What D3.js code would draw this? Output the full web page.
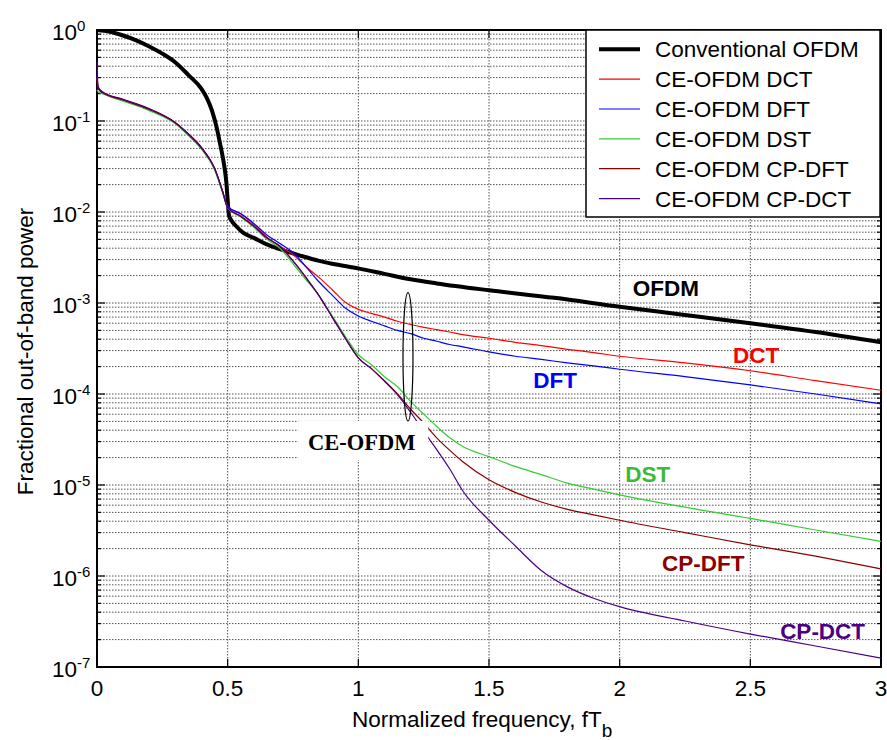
<!DOCTYPE html>
<html>
<head>
<meta charset="utf-8">
<script src="https://cdn.jsdelivr.net/npm/d3@7"></script>
<style>
  html, body { margin: 0; padding: 0; background: #fff; }
  svg { display: block; }
</style>
</head>
<body>
<svg id="chart" width="887" height="740"></svg>
<script>
// ---------------- data ----------------
const ofdmFreq = [0, 0.05, 0.1, 0.15, 0.2, 0.25, 0.3, 0.35, 0.4, 0.42, 0.44, 0.46, 0.47, 0.48, 0.49, 0.495, 0.5, 0.505, 0.515, 0.53, 0.56, 0.6, 0.65, 0.7, 0.78, 0.85, 0.9, 1.0, 1.1, 1.2, 1.3, 1.5, 1.75, 2.0, 2.25, 2.5, 2.75, 3.0];
const ofdmConv = [1.0, 0.957, 0.87, 0.77, 0.66, 0.55, 0.44, 0.32, 0.225, 0.18, 0.13, 0.08, 0.058, 0.042, 0.028, 0.021, 0.0135, 0.0092, 0.008, 0.0071, 0.0059, 0.0052, 0.0044, 0.0039, 0.0033, 0.0029, 0.0027, 0.0024, 0.00209, 0.00182, 0.00164, 0.00138, 0.00114, 0.00091, 0.00074, 0.0006, 0.00048, 0.00037];

const ceFreq = [0, 0.004, 0.02, 0.1, 0.2, 0.3, 0.35, 0.4, 0.45, 0.48, 0.5, 0.55, 0.6, 0.65, 0.7, 0.75, 0.8, 0.85, 0.9, 0.95, 1.0, 1.05, 1.1, 1.15, 1.2, 1.25, 1.3, 1.35, 1.4, 1.5, 1.6, 1.7, 1.8, 1.9, 2.0, 2.25, 2.5, 2.75, 3.0];
const ceDCT = [0.3, 0.235, 0.21, 0.172, 0.136, 0.096, 0.072, 0.051, 0.030, 0.017, 0.0115, 0.0095, 0.0073, 0.0053, 0.0042, 0.0034, 0.0025, 0.0019, 0.0014, 0.00102, 0.00085, 0.00077, 0.0007, 0.00063, 0.00058, 0.00054, 0.00051, 0.00048, 0.00045, 0.00041, 0.00037, 0.00034, 0.00031, 0.000285, 0.00026, 0.00022, 0.00018, 0.00014, 0.00011];
const ceDFT = [0.33, 0.23, 0.205, 0.17, 0.134, 0.095, 0.071, 0.05, 0.030, 0.017, 0.0115, 0.0096, 0.0075, 0.0056, 0.0045, 0.0036, 0.0025, 0.0017, 0.00122, 0.00088, 0.00072, 0.00063, 0.00056, 0.0005, 0.00046, 0.00041, 0.00038, 0.00035, 0.00033, 0.00029, 0.00026, 0.00024, 0.00022, 0.000204, 0.000187, 0.000155, 0.000126, 0.0001, 0.000078];
const ceDST = [0.22, 0.21, 0.2, 0.165, 0.13, 0.093, 0.069, 0.049, 0.029, 0.0165, 0.011, 0.0088, 0.0068, 0.005, 0.004, 0.0027, 0.0018, 0.0012, 0.00072, 0.00043, 0.00027, 0.00021, 0.000155, 0.00012, 8.3e-5, 6e-5, 4.4e-5, 3.3e-5, 2.65e-5, 2.05e-5, 1.6e-5, 1.3e-5, 1.05e-5, 9e-6, 7.8e-6, 5.7e-6, 4.3e-6, 3.2e-6, 2.4e-6];
const ceCPDFT = [0.3, 0.23, 0.205, 0.17, 0.134, 0.095, 0.071, 0.05, 0.030, 0.017, 0.0112, 0.009, 0.007, 0.0052, 0.0042, 0.0029, 0.0019, 0.0012, 0.0007, 0.00041, 0.00025, 0.00019, 0.00014, 0.0001, 6.8e-5, 4.8e-5, 3.3e-5, 2.4e-5, 1.8e-5, 1.14e-5, 8.3e-6, 6.5e-6, 5.4e-6, 4.7e-6, 4.1e-6, 3e-6, 2.2e-6, 1.65e-6, 1.2e-6];
const ceCPDCT = [0.45, 0.24, 0.21, 0.173, 0.136, 0.096, 0.072, 0.051, 0.030, 0.017, 0.0112, 0.009, 0.007, 0.0052, 0.0042, 0.0029, 0.0019, 0.0012, 0.0007, 0.00041, 0.00025, 0.00019, 0.000138, 9.8e-5, 6.3e-5, 3.9e-5, 2.45e-5, 1.5e-5, 8.6e-6, 4.1e-6, 2.15e-6, 1.15e-6, 7.6e-7, 5.7e-7, 4.6e-7, 3.2e-7, 2.3e-7, 1.7e-7, 1.25e-7];

const seriesNames = ["Conventional OFDM", "CE-OFDM DCT", "CE-OFDM DFT", "CE-OFDM DST", "CE-OFDM CP-DFT", "CE-OFDM CP-DCT"];
const seriesColors = ["#000000", "#ff0000", "#0000ff", "#33cc33", "#8b0000", "#4b0082"];
const xTickValues = [0, 0.5, 1, 1.5, 2, 2.5, 3];
const xTickLabels = ["0", "0.5", "1", "1.5", "2", "2.5", "3"];
const yDecades = [0, -1, -2, -3, -4, -5, -6, -7];
const curveLabels = ["OFDM", "DCT", "DFT", "DST", "CP-DFT", "CP-DCT"];
const labelColors = ["#000000", "#ff0000", "#0000ff", "#3cb93c", "#8b0000", "#4b0082"];
// label anchors in data units (frequency, power)
const labelFreq = [2.05, 2.434, 1.669, 2.021, 2.162, 2.614];
const labelPower = [1.19e-3, 2.19e-4, 1.16e-4, 1.08e-5, 1.13e-6, 2.03e-7];
const xLabel = "Normalized frequency, fT";
const yLabel = "Fractional out-of-band power";

// ---------------- layout ----------------
const SANS = "'Liberation Sans', Arial, sans-serif";
const SERIF = "'Liberation Serif', 'Times New Roman', serif";
const svg = d3.select("#chart").style("font-family", SANS);
const L = 97, R = 881, T = 30, B = 667;
const x = d3.scaleLinear().domain([0, 3]).range([L, R]);
const y = d3.scaleLog().domain([1e-7, 1]).range([B, T]);
const FS = 22.5;

svg.append("rect").attr("width", 887).attr("height", 740).attr("fill", "#fff");

// grid
const minorVals = [];
for (let e = -7; e <= 0; e++) {
  for (let m = 1; m <= 9; m++) {
    const v = m * Math.pow(10, e);
    if (v <= 1.0000001) minorVals.push(v);
  }
}
const isMajor = d => Math.abs(Math.log10(d) - Math.round(Math.log10(d))) < 1e-9;
const grid = svg.append("g");
grid.selectAll("line.h").data(minorVals).join("line")
  .attr("x1", L).attr("x2", R)
  .attr("y1", d => y(d)).attr("y2", d => y(d))
  .attr("stroke", "#555").attr("stroke-width", 1).attr("stroke-dasharray", "1.5,1.5");
grid.selectAll("line.v").data(xTickValues.slice(1, -1)).join("line")
  .attr("y1", T).attr("y2", B)
  .attr("x1", d => x(d)).attr("x2", d => x(d))
  .attr("stroke", "#555").attr("stroke-width", 1).attr("stroke-dasharray", "1.5,1.5");

// axes box
const axG = svg.append("g");
axG.append("rect").attr("x", L).attr("y", T).attr("width", R - L).attr("height", B - T)
  .attr("fill", "none").attr("stroke", "#000").attr("stroke-width", 2);
axG.selectAll("line.yt").data(minorVals).join("line")
  .attr("x1", L).attr("x2", d => L + (isMajor(d) ? 8 : 4))
  .attr("y1", d => y(d)).attr("y2", d => y(d)).attr("stroke", "#000").attr("stroke-width", 1.2);
axG.selectAll("line.yt2").data(minorVals).join("line")
  .attr("x1", R).attr("x2", d => R - (isMajor(d) ? 8 : 4))
  .attr("y1", d => y(d)).attr("y2", d => y(d)).attr("stroke", "#000").attr("stroke-width", 1.2);
axG.selectAll("line.xt").data(xTickValues).join("line")
  .attr("x1", d => x(d)).attr("x2", d => x(d)).attr("y1", B).attr("y2", B - 8)
  .attr("stroke", "#000").attr("stroke-width", 1.2);
axG.selectAll("line.xt2").data(xTickValues).join("line")
  .attr("x1", d => x(d)).attr("x2", d => x(d)).attr("y1", T).attr("y2", T + 8)
  .attr("stroke", "#000").attr("stroke-width", 1.2);

// clip (data drawn on top of the axes lines)
svg.append("clipPath").attr("id", "clip").append("rect")
  .attr("x", L - 1).attr("y", T - 1).attr("width", R - L + 2).attr("height", B - T + 2);

const line = d3.line().x(d => x(d[0])).y(d => y(d[1])).curve(d3.curveMonotoneX);
const seriesData = [
  d3.zip(ofdmFreq, ofdmConv),
  d3.zip(ceFreq, ceDCT),
  d3.zip(ceFreq, ceDFT),
  d3.zip(ceFreq, ceDST),
  d3.zip(ceFreq, ceCPDFT),
  d3.zip(ceFreq, ceCPDCT)
];
const widths = [4, 1.2, 1.2, 1.2, 1.2, 1.2];
const plotG = svg.append("g").attr("clip-path", "url(#clip)");
seriesData.forEach((d, i) => {
  plotG.append("path").datum(d).attr("d", line)
    .attr("fill", "none").attr("stroke", seriesColors[i])
    .attr("stroke-width", widths[i]).attr("stroke-linejoin", "round");
});

// CE-OFDM annotation box, ellipse
svg.append("rect").attr("x", x(0.77)).attr("y", y(5.05e-5)).attr("width", 130).attr("height", 39)
  .attr("fill", "#fff");
svg.append("text").attr("x", x(0.807)).attr("y", y(2.4e-5))
  .style("font-family", SERIF)
  .attr("font-weight", "bold").attr("font-size", FS).attr("fill", "#000").text("CE-OFDM");
svg.append("ellipse").attr("cx", x(1.19)).attr("cy", (y(1.3e-3) + y(5.05e-5)) / 2)
  .attr("rx", 5).attr("ry", (y(5.05e-5) - y(1.3e-3)) / 2)
  .attr("fill", "none").attr("stroke", "#000").attr("stroke-width", 1.2);

// curve labels
curveLabels.forEach((t, i) => {
  svg.append("text").attr("x", x(labelFreq[i])).attr("y", y(labelPower[i]))
    .attr("font-weight", "bold").attr("font-size", FS).attr("fill", labelColors[i]).text(t);
});

// x tick labels
xTickValues.forEach((v, i) => {
  svg.append("text").attr("x", x(v)).attr("y", B + 29).attr("text-anchor", "middle")
    .attr("font-size", FS).attr("fill", "#000").text(xTickLabels[i]);
});
// y tick labels
yDecades.forEach(e => {
  const t = svg.append("text").attr("x", 52).attr("y", y(Math.pow(10, e)) + 10)
    .attr("font-size", FS).attr("fill", "#000");
  t.append("tspan").text("10");
  t.append("tspan").attr("font-size", 15).attr("dy", -9).text(String(e));
});

// axis labels
const xl = svg.append("text").attr("x", 352).attr("y", 727).attr("font-size", FS).attr("fill", "#000");
xl.append("tspan").text(xLabel);
xl.append("tspan").attr("font-size", 19).attr("dy", 10).text("b");
svg.append("text").attr("transform", "translate(33," + ((T + B) / 2 + 3) + ") rotate(-90)")
  .attr("text-anchor", "middle").attr("font-size", FS).attr("fill", "#000").text(yLabel);

// legend
const lg = svg.append("g");
lg.append("rect").attr("x", 586).attr("y", 30).attr("width", 294).attr("height", 187)
  .attr("fill", "#fff").attr("stroke", "#000").attr("stroke-width", 1.5);
seriesNames.forEach((n, i) => {
  const by = 57.3 + i * 29.85;
  lg.append("line").attr("x1", 599).attr("x2", 640).attr("y1", by - 8).attr("y2", by - 8)
    .attr("stroke", seriesColors[i]).attr("stroke-width", i === 0 ? 4 : 1.2);
  lg.append("text").attr("x", 655).attr("y", by).attr("font-size", FS).attr("fill", "#000").text(n);
});
</script>
</body>
</html>
